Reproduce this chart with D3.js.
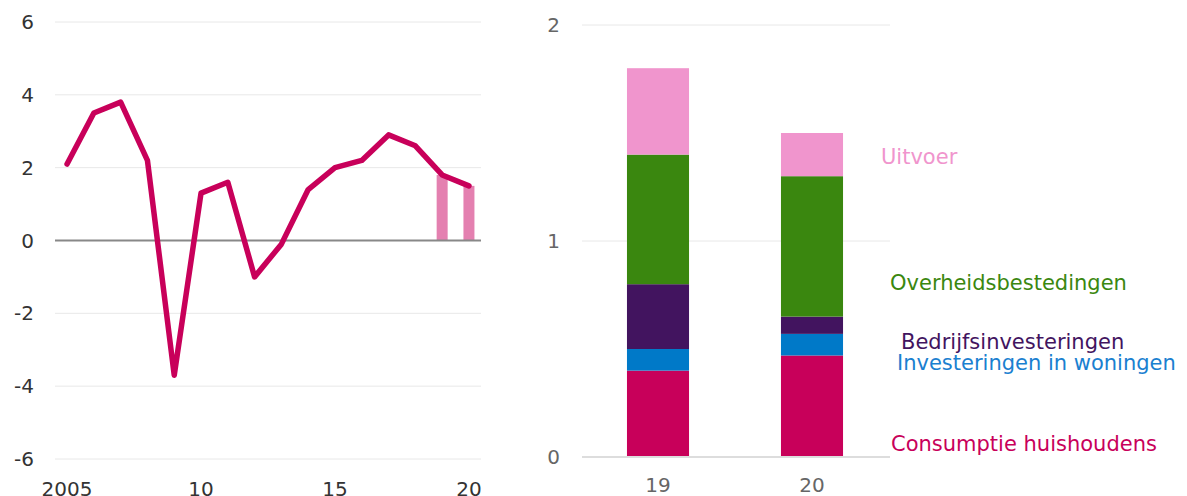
<!DOCTYPE html>
<html>
<head>
<meta charset="utf-8">
<script src="https://cdn.jsdelivr.net/npm/d3@7"></script>
<style>
  body { margin: 0; background: #fff; }
  svg text { font-family: "DejaVu Sans", "Open Sans", sans-serif; }
</style>
</head>
<body>
<svg id="chart" width="1187" height="496"></svg>
<script>
// left panel: groei bbp
const years = [2005, 2006, 2007, 2008, 2009, 2010, 2011, 2012, 2013, 2014, 2015, 2016, 2017, 2018, 2019, 2020];
const growth = [2.1, 3.5, 3.8, 2.2, -3.7, 1.3, 1.6, -1.0, -0.1, 1.4, 2.0, 2.2, 2.9, 2.6, 1.8, 1.5];
const forecastYears = [2019, 2020];
const leftTicks = [-6, -4, -2, 0, 2, 4, 6];
const leftXTicks = [2005, 2010, 2015, 2020];
const leftXLabels = ["2005", "10", "15", "20"];

// right panel: bijdrage aan groei
const periods = ["19", "20"];
const components = ["Consumptie huishoudens", "Investeringen in woningen", "Bedrijfsinvesteringen", "Overheidsbestedingen", "Uitvoer"];
const contrib19 = [0.4, 0.1, 0.3, 0.6, 0.4];
const contrib20 = [0.47, 0.1, 0.08, 0.65, 0.2];
const rightTicks = [0, 1, 2];

const colors = ["#c8005a", "#0079c8", "#42145f", "#3a870f", "#f095cd"];
const labelColors = ["#c8005a", "#1a80d0", "#42145f", "#3a870f", "#f095cd"];

const svg = d3.select("#chart");

// ---------- left
const x = d3.scaleLinear().domain([2004.55, 2020.45]).range([55, 481]);
const y = d3.scaleLinear().domain([-6, 6]).range([459, 22]);

const gl = svg.append("g");
gl.selectAll("line.grid")
  .data(leftTicks.filter(d => d !== 0))
  .enter().append("line")
  .attr("x1", 55).attr("x2", 481)
  .attr("y1", d => y(d)).attr("y2", d => y(d))
  .attr("stroke", "#e8e8e8").attr("stroke-width", 1);

gl.selectAll("text.ytick")
  .data(leftTicks)
  .enter().append("text")
  .attr("x", 34).attr("y", d => y(d) + 7)
  .attr("text-anchor", "end")
  .attr("font-size", 20).attr("fill", "#333")
  .text(d => d);

gl.selectAll("text.xtick")
  .data(leftXTicks)
  .enter().append("text")
  .attr("x", d => x(d)).attr("y", 496)
  .attr("text-anchor", "middle")
  .attr("font-size", 20).attr("fill", "#333")
  .text((d, i) => leftXLabels[i]);

// forecast bars
gl.selectAll("rect.fc")
  .data(forecastYears)
  .enter().append("rect")
  .attr("x", d => x(d) - 5.5)
  .attr("width", 11)
  .attr("y", d => y(growth[years.indexOf(d)]))
  .attr("height", d => y(0) - y(growth[years.indexOf(d)]))
  .attr("fill", "#e480b0");

gl.append("line")
  .attr("x1", 55).attr("x2", 481)
  .attr("y1", y(0)).attr("y2", y(0))
  .attr("stroke", "#888").attr("stroke-width", 2);

const line = d3.line().x((d, i) => x(years[i])).y(d => y(d));
gl.append("path")
  .datum(growth)
  .attr("d", line)
  .attr("fill", "none")
  .attr("stroke", "#c8005a")
  .attr("stroke-width", 5.5)
  .attr("stroke-linecap", "round")
  .attr("stroke-linejoin", "round");

// ---------- right
const xb = d3.scaleBand().domain(periods).range([582, 888]).paddingInner(0.597).paddingOuter(0.292);
const yb = d3.scaleLinear().domain([0, 2]).range([457, 25]);

const gr = svg.append("g");
gr.selectAll("line.grid")
  .data(rightTicks.filter(d => d !== 0))
  .enter().append("line")
  .attr("x1", 582).attr("x2", 890)
  .attr("y1", d => yb(d)).attr("y2", d => yb(d))
  .attr("stroke", "#e8e8e8").attr("stroke-width", 1);

gr.selectAll("text.ytick")
  .data(rightTicks)
  .enter().append("text")
  .attr("x", 560).attr("y", d => yb(d) + 7)
  .attr("text-anchor", "end")
  .attr("font-size", 20).attr("fill", "#666")
  .text(d => d);

const rows = periods.map((p, i) => {
  const vals = i === 0 ? contrib19 : contrib20;
  const r = { period: p };
  components.forEach((c, j) => r[c] = vals[j]);
  return r;
});
const stack = d3.stack().keys(components)(rows);

gr.selectAll("g.layer")
  .data(stack)
  .enter().append("g")
  .attr("fill", (d, i) => colors[i])
  .selectAll("rect")
  .data(d => d)
  .enter().append("rect")
  .attr("x", d => xb(d.data.period))
  .attr("width", xb.bandwidth())
  .attr("y", d => yb(d[1]))
  .attr("height", d => yb(d[0]) - yb(d[1]));

gr.append("line")
  .attr("x1", 582).attr("x2", 890)
  .attr("y1", yb(0)).attr("y2", yb(0))
  .attr("stroke", "#ddd").attr("stroke-width", 2);

gr.selectAll("text.xtick")
  .data(periods)
  .enter().append("text")
  .attr("x", d => xb(d) + xb.bandwidth() / 2).attr("y", 492)
  .attr("text-anchor", "middle")
  .attr("font-size", 20).attr("fill", "#666")
  .text(d => d);

// labels
const labelPos = [[891, 451], [897, 370], [901, 349], [890, 290], [881, 164]];
gr.selectAll("text.lab")
  .data(components)
  .enter().append("text")
  .attr("x", (d, i) => labelPos[i][0]).attr("y", (d, i) => labelPos[i][1])
  .attr("font-size", 21)
  .attr("fill", (d, i) => labelColors[i])
  .text(d => d);
</script>
</body>
</html>
